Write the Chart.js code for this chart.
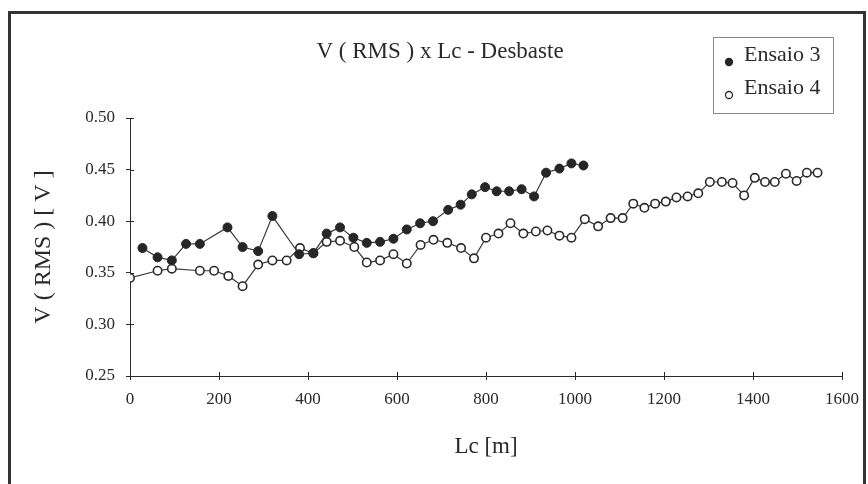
<!DOCTYPE html>
<html>
<head>
<meta charset="utf-8">
<script src="https://cdn.jsdelivr.net/npm/chart.js@4.4.1/dist/chart.umd.min.js"></script>
<style>
  html, body { margin: 0; padding: 0; background: #fff; }
  #wrap { width: 868px; height: 484px; }
</style>
</head>
<body>
<div id="wrap"><canvas id="chart" width="868" height="484"></canvas></div>
<script>
// Lc [m] and V(RMS) [V]
const lcEnsaio3 = [28, 62, 94, 126, 157, 219, 253, 288, 320, 380, 412, 442, 472, 502, 532, 562, 592, 622,
  652, 681, 715, 743, 768, 798, 824, 852, 880, 908, 935, 965, 992, 1019];
const vEnsaio3 = [0.374, 0.365, 0.362, 0.378, 0.378, 0.394, 0.375, 0.371, 0.405, 0.368, 0.369, 0.388, 0.394,
  0.384, 0.379, 0.380, 0.383, 0.392, 0.398, 0.400, 0.411, 0.416, 0.426, 0.433, 0.429, 0.429, 0.431, 0.424,
  0.447, 0.451, 0.456, 0.454];

const lcEnsaio4 = [0, 62, 94, 157, 189, 221, 253, 288, 320, 352, 382, 412, 442, 472, 504, 532, 562, 592, 622,
  653, 682, 713, 744, 773, 800, 828, 855, 884, 912, 938, 965, 992, 1022, 1052, 1080, 1107, 1131, 1156, 1180,
  1204, 1228, 1253, 1277, 1303, 1330, 1354, 1380, 1404, 1427, 1449, 1474, 1498, 1521, 1545];
const vEnsaio4 = [0.345, 0.352, 0.354, 0.352, 0.352, 0.347, 0.337, 0.358, 0.362, 0.362, 0.374, 0.369, 0.380,
  0.381, 0.375, 0.360, 0.362, 0.368, 0.359, 0.377, 0.382, 0.379, 0.374, 0.364, 0.384, 0.388, 0.398, 0.388,
  0.390, 0.391, 0.386, 0.384, 0.402, 0.395, 0.403, 0.403, 0.417, 0.413, 0.417, 0.419, 0.423, 0.424, 0.427,
  0.438, 0.438, 0.437, 0.425, 0.442, 0.438, 0.438, 0.446, 0.439, 0.447, 0.447];

const chartTitle = 'V ( RMS ) x Lc - Desbaste';
const xTitle = 'Lc [m]';
const yTitle = 'V ( RMS ) [ V ]';

const serif = "'Liberation Serif', 'Times New Roman', serif";
const ink = '#2a2a2a';

const toPoints = (xs, ys) => xs.map((x, i) => ({ x, y: ys[i] }));

// white page, scanned frame, title and boxed legend
const paperPlugin = {
  id: 'paper',
  beforeDraw(chart) {
    const { ctx, width, height } = chart;
    ctx.save();
    ctx.fillStyle = '#fff';
    ctx.fillRect(0, 0, width, height);
    ctx.strokeStyle = '#333';
    ctx.lineWidth = 3;
    ctx.beginPath();
    ctx.moveTo(9.5, height);
    ctx.lineTo(9.5, 12.5);
    ctx.lineTo(864.5, 12.5);
    ctx.lineTo(864.5, height);
    ctx.stroke();
    ctx.restore();
  },
  afterDraw(chart) {
    const { ctx } = chart;
    ctx.save();
    ctx.fillStyle = ink;
    ctx.font = `23px ${serif}`;
    ctx.textAlign = 'center';
    ctx.textBaseline = 'middle';
    ctx.fillText(chartTitle, 440, 52);

    // legend box
    ctx.strokeStyle = '#888';
    ctx.lineWidth = 1;
    ctx.strokeRect(713.5, 37.5, 120, 76);
    ctx.font = `22px ${serif}`;
    ctx.textAlign = 'left';
    const rows = [55, 88];
    chart.data.datasets.forEach((ds, i) => {
      ctx.fillStyle = ink;
      ctx.fillText(ds.label, 744, rows[i]);
      ctx.beginPath();
      ctx.arc(729, rows[i] + 7, 3.5, 0, Math.PI * 2);
      ctx.fillStyle = ds.pointBackgroundColor;
      ctx.fill();
      ctx.lineWidth = 1.3;
      ctx.strokeStyle = ds.pointBorderColor;
      ctx.stroke();
    });

    // tick marks crossing into the plot area
    const { x, y } = chart.scales;
    ctx.strokeStyle = ink;
    ctx.lineWidth = 1;
    ctx.beginPath();
    x.ticks.forEach(t => {
      const px = Math.round(x.getPixelForValue(t.value)) + 0.5;
      ctx.moveTo(px, y.bottom);
      ctx.lineTo(px, y.bottom - 4);
    });
    y.ticks.forEach(t => {
      const py = Math.round(y.getPixelForValue(t.value)) + 0.5;
      ctx.moveTo(x.left, py);
      ctx.lineTo(x.left + 4, py);
    });
    ctx.stroke();
    ctx.restore();
  },
};

new Chart(document.getElementById('chart'), {
  type: 'scatter',
  data: {
    datasets: [
      {
        label: 'Ensaio 3',
        data: toPoints(lcEnsaio3, vEnsaio3),
        showLine: true,
        borderColor: '#3a3a3a',
        borderWidth: 1.2,
        pointRadius: 4.5,
        pointBackgroundColor: '#262626',
        pointBorderColor: '#262626',
        pointBorderWidth: 1,
      },
      {
        label: 'Ensaio 4',
        data: toPoints(lcEnsaio4, vEnsaio4),
        showLine: true,
        borderColor: '#3a3a3a',
        borderWidth: 1.2,
        pointRadius: 4.2,
        pointBackgroundColor: '#ffffff',
        pointBorderColor: '#2a2a2a',
        pointBorderWidth: 1.6,
      },
    ],
  },
  options: {
    responsive: false,
    animation: false,
    layout: { padding: { left: 0, right: 26, top: 118, bottom: 0 } },
    plugins: {
      legend: { display: false },
      title: { display: false },
      tooltip: { enabled: false },
    },
    scales: {
      x: {
        type: 'linear',
        min: 0,
        max: 1600,
        ticks: {
          stepSize: 200,
          padding: 9,
          color: ink,
          font: { family: serif, size: 17 },
          callback: v => String(v),
        },
        grid: { drawOnChartArea: false, drawTicks: true, tickLength: 4, color: ink },
        border: { display: true, color: ink, width: 1 },
        title: {
          display: true,
          text: xTitle,
          color: ink,
          font: { family: serif, size: 23 },
          padding: { top: 0, bottom: 23 },
        },
        afterFit(scale) { scale.height = 108; },
      },
      y: {
        type: 'linear',
        min: 0.25,
        max: 0.5,
        ticks: {
          stepSize: 0.05,
          padding: 11,
          color: ink,
          font: { family: serif, size: 17 },
          callback: v => v.toFixed(2),
        },
        grid: { drawOnChartArea: false, drawTicks: true, tickLength: 4, color: ink },
        border: { display: true, color: ink, width: 1 },
        title: {
          display: true,
          text: yTitle,
          color: ink,
          font: { family: serif, size: 24 },
          padding: { top: 29, bottom: 0 },
        },
        afterFit(scale) { scale.width = 130; },
      },
    },
  },
  plugins: [paperPlugin],
});
</script>
</body>
</html>
